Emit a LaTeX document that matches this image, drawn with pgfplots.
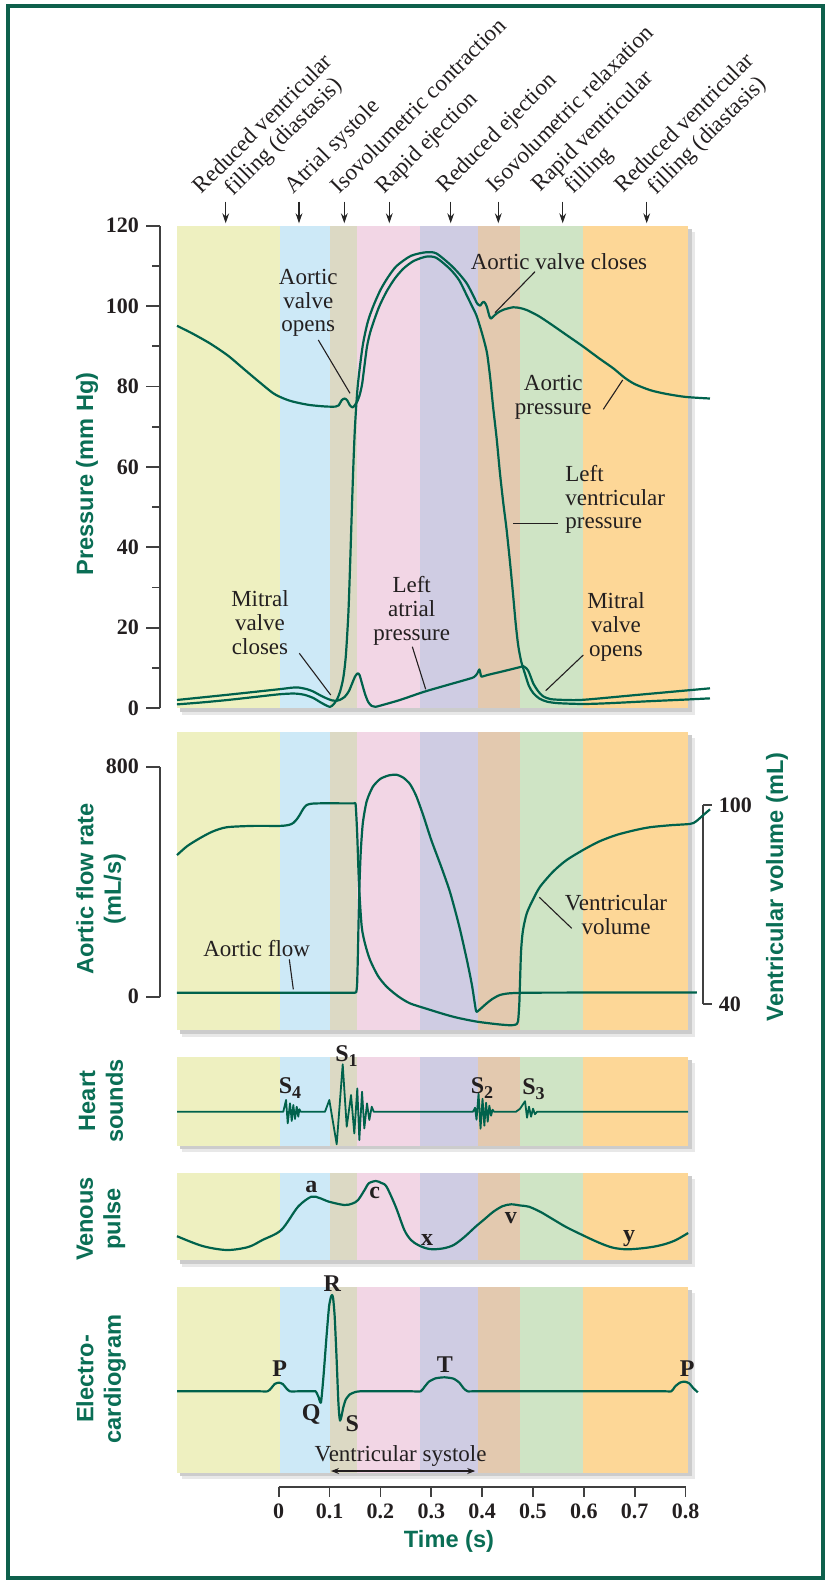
\documentclass[border=0pt]{standalone}
\usepackage{fontspec}
\setmainfont{Liberation Serif}
\setsansfont{Liberation Sans}
\usepackage{pgfplots}
\pgfplotsset{compat=1.18}
\usetikzlibrary{arrows.meta}

\definecolor{cgreen}{RGB}{0,98,76}
\definecolor{tgreen}{RGB}{10,110,85}
\definecolor{framec}{RGB}{14,96,76}
\definecolor{bY}{RGB}{238,240,192}
\definecolor{bB}{RGB}{205,233,247}
\definecolor{bT}{RGB}{220,217,196}
\definecolor{bP}{RGB}{242,214,229}
\definecolor{bL}{RGB}{207,204,227}
\definecolor{bR}{RGB}{227,201,175}
\definecolor{bG}{RGB}{207,228,197}
\definecolor{bO}{RGB}{253,215,151}
\definecolor{txt}{RGB}{35,31,32}

\newcommand{\annfont}{\fontsize{11.5}{11.9}\selectfont}
\newcommand{\tickfont}{\fontsize{11}{13}\selectfont\bfseries}
\newcommand{\titfont}{\fontsize{11.8}{13.8}\selectfont\sffamily\bfseries}
\newcommand{\lblfont}{\fontsize{12}{14}\selectfont\bfseries}
\newcommand{\sub}[1]{\raisebox{-0.4ex}{\fontsize{9}{9}\selectfont #1}}

\newcommand{\panel}[2]{%
 \fill[black!9] (182,#1+6) rectangle (694.5,#2+6.5);
 \fill[black!20] (179.5,#1+3) rectangle (691.5,#2+3.5);
 \foreach \xa/\xb/\cl in {177/280.1/bY,280.1/330.1/bB,330.1/356.9/bT,356.9/419.8/bP,419.8/477.9/bL,477.9/519.8/bR,519.8/583.2/bG,583.2/688.1/bO}{\fill[\cl] (\xa,#1) rectangle (\xb,#2);}
}

\pgfplotsset{
 trace/.style={cgreen, line width=1.1pt, line join=round, no markers},
 yaxisstyle/.style={axis x line=none, xtick=\empty, tick align=outside,
   axis line style={black!75, line width=0.9pt}, tick style={black!75, line width=0.9pt},
   yticklabel style={font=\tickfont, text=txt}},
 panelaxis/.style={scale only axis, clip=false, xmin=-0.2, xmax=0.805, width=255.57pt, hide axis},
}

\begin{document}
\begin{tikzpicture}
\useasboundingbox (0pt,0pt) rectangle (415.5pt,-792pt);
\begin{scope}[x=0.5pt,y=-0.5pt]
 \draw[framec, line width=2.25pt] (8,6) rectangle (823,1578);
 \panel{225.7}{708}
 \panel{732.3}{1030}
 \panel{1057.3}{1145.7}
 \panel{1172.7}{1260}
 \panel{1287.3}{1472.7}
\end{scope}

% ---------------- Pressure panel ----------------
\begin{axis}[scale only axis, clip=false, at={(80pt,-354pt)}, anchor=south west,
  xmin=-0.2334, xmax=0.805, width=264.06pt, ymin=0, ymax=120, height=241.15pt,
  yaxisstyle, axis y line*=left,
  ytick={0,20,40,60,80,100,120}, yticklabels={0,20,40,60,80,100,120},
  minor ytick={10,30,50,70,90,110},
  major tick length=7pt, minor tick length=4pt]
% outer curve (ventricular rise, aortic decay)
\addplot[trace, smooth, tension=0.45] coordinates {
(-0.2,0.9) (-0.15,1.4) (-0.1,2.0) (-0.05,2.7) (0.0,3.4) (0.03,3.6) (0.05,3.3) (0.068,2.5)
(0.081,1.5) (0.094,0.6) (0.101,0.3) (0.107,0.8) (0.114,2.0) (0.1205,4.0) (0.127,7.5) (0.132,13)
(0.137,23.6) (0.1405,36) (0.1435,48) (0.1467,60) (0.150,70) (0.1553,80) (0.165,90) (0.175,96)
(0.186,100) (0.20,104) (0.215,107.2) (0.232,110) (0.26,112.5) (0.29,113.4) (0.31,113.1)
(0.3375,110.3) (0.355,108) (0.37,105.6) (0.383,102.5) (0.39,100.7) (0.396,100.1) (0.4,100.8)
(0.403,101.1) (0.407,100.5) (0.41,99.5) (0.414,97.6) (0.417,96.9) (0.421,97.3) (0.43,98.3)
(0.442,99.1) (0.461,99.7) (0.475,99.5) (0.488,99) (0.51,97.6) (0.533,95.7) (0.566,92.8)
(0.599,89.9) (0.63,87) (0.658,84.5) (0.68,82.2) (0.70,80.6) (0.73,79.1) (0.76,78.2) (0.80,77.4) (0.848,77.0)};
% inner curve (aortic, then ventricular fall)
\addplot[trace, smooth, tension=0.45] coordinates {
(-0.2,95.1) (-0.17,93.2) (-0.135,90.7) (-0.1,87.7) (-0.07,84.5) (-0.04,81.3) (-0.0106,78.3)
(0.01,77.0) (0.029,76.2) (0.06,75.4) (0.094,75.0) (0.112,75.0) (0.118,75.3) (0.124,76.6)
(0.130,77.0) (0.135,76.5) (0.14,75.3) (0.1455,74.8) (0.15,75.4) (0.155,76.4) (0.159,77.8)
(0.162,79.3) (0.1645,81) (0.168,84.5) (0.1737,90) (0.18,93.5) (0.188,96.6) (0.198,100)
(0.212,103.6) (0.228,106.8) (0.245,109.3) (0.265,111.2) (0.29,112.3) (0.31,112.0) (0.337,109.2)
(0.355,106.4) (0.37,102.6) (0.38,100) (0.389,97.6) (0.398,94) (0.405,90.8) (0.41,88) (0.416,82)
(0.4215,75) (0.4286,67) (0.435,58.5) (0.4416,51) (0.448,44.5) (0.455,36) (0.461,28) (0.466,21)
(0.471,15.5) (0.477,11.5) (0.484,8.6) (0.492,5.5) (0.5006,3.7) (0.512,2.4) (0.527,1.6)
(0.55,1.2) (0.599,1.0) (0.65,1.2) (0.73,1.7) (0.80,2.1) (0.848,2.4)};
% left atrial pressure
\addplot[trace, smooth, tension=0.45] coordinates {
(-0.2,2.0) (-0.1,3.3) (0.0026,4.7) (0.025,5.05) (0.0386,5.1) (0.055,4.7) (0.068,4.1) (0.081,3.2)
(0.094,2.4) (0.105,1.9) (0.114,1.8) (0.12,2.0) (0.13,2.8) (0.138,4.2) (0.145,6.3) (0.15,7.8)
(0.155,8.6) (0.159,8.2) (0.164,6) (0.17,3.4) (0.176,1.5) (0.183,0.5) (0.19,0.3) (0.2,0.6)
(0.2385,2.0) (0.29,4.2) (0.37,7.1) (0.384,7.7) (0.3905,8.6) (0.3945,9.6) (0.397,8.4) (0.399,7.8)
(0.41,8.2) (0.44,9.1) (0.475,10.2) (0.481,10.4) (0.486,10.0) (0.491,9.2) (0.496,7.6) (0.5006,6.1)
(0.51,4.2) (0.52,2.9) (0.535,2.2) (0.565,2.0) (0.6,2.05) (0.7,3.2) (0.848,4.9)};
\end{axis}

% ---------------- Aortic flow panel ----------------
\begin{axis}[scale only axis, clip=false, at={(80pt,-498.35pt)}, anchor=south west,
  xmin=-0.2334, xmax=0.805, width=264.06pt, ymin=0, ymax=800, height=115pt,
  yaxisstyle, axis y line*=left, ytick={0,800}, yticklabels={0,800},
  major tick length=7pt]
\addplot[trace, smooth, tension=0.4] coordinates {
(-0.2,14) (0.0,14) (0.12,14) (0.14,14) (0.147,14) (0.150,14) (0.1525,16) (0.1542,45) (0.1555,130)
(0.157,260) (0.159,400) (0.1615,510) (0.1655,605) (0.173,680) (0.185,730) (0.2,758) (0.217,770)
(0.232,772) (0.245,762) (0.258,740) (0.27,700) (0.284,632) (0.30,545) (0.32,450) (0.337,363)
(0.355,245) (0.370,128) (0.38,40) (0.3875,-45) (0.39,-52) (0.395,-45) (0.409,-23) (0.42,-8)
(0.435,6) (0.455,12) (0.5,14) (0.65,14.5) (0.822,15)};
\end{axis}

% ---------------- Ventricular volume (right axis) ----------------
\begin{axis}[scale only axis, clip=false, at={(88.5pt,-502pt)}, anchor=south west,
  xmin=-0.2, xmax=0.8348, width=263.15pt, ymin=40, ymax=100, height=99.5pt,
  yaxisstyle, axis y line*=right, ytick={40,100}, yticklabels={40,100},
  major tick length=4.2pt]
\addplot[trace, smooth, tension=0.45] coordinates {
(-0.2,84.9) (-0.18,87.6) (-0.155,90) (-0.13,92) (-0.102,93.3) (-0.05,93.7) (0.0026,93.7)
(0.02,94) (0.0287,94.6) (0.036,95.8) (0.042,97.2) (0.048,98.8) (0.055,100) (0.065,100.4)
(0.081,100.5) (0.12,100.5) (0.142,100.5) (0.148,100.5) (0.151,100.4) (0.1525,97) (0.1545,90.4)
(0.158,75.4) (0.1632,63.3) (0.17,58)
(0.1795,53.3) (0.195,48.5) (0.2123,45.2) (0.235,42.3) (0.258,40.2) (0.29,38.6) (0.3237,37)
(0.35,35.9) (0.389,34.7) (0.43,33.9) (0.455,33.6) (0.466,33.8) (0.4705,34.8) (0.473,40)
(0.4745,47) (0.4765,56) (0.48,62) (0.4876,67.3) (0.5,71.5) (0.514,75.4) (0.54,80) (0.566,83.4)
(0.598,86.4) (0.63,89) (0.6646,91) (0.7,92.4) (0.73,93.3) (0.77,93.9) (0.8087,94.3) (0.82,95)
(0.835,97) (0.848,98.7)};
\end{axis}

% ---------------- Heart sounds ----------------
\begin{axis}[panelaxis, at={(88.5pt,-572.85pt)}, anchor=south west,
  ymin=-34, ymax=54.4, height=44.2pt]
\addplot[trace, line width=0.9pt, sharp plot] coordinates {
(-0.2,0) (0.009,0) (0.0144,11.7) (0.0177,-11.6) (0.0222,8.4) (0.0256,-9.3) (0.0287,6.7)
(0.032,-7.3) (0.0354,5) (0.0385,-5) (0.0405,2.5) (0.0433,0) (0.091,0) (0.0995,11.7)
(0.114,-32.6) (0.1258,47.4) (0.1337,-15) (0.1422,16.7) (0.1486,-21.7) (0.1545,23.3)
(0.1585,-28.3) (0.1638,20) (0.1683,-16.7) (0.1736,8.3) (0.1781,-8.3) (0.1829,5) (0.1868,0)
(0.382,0) (0.386,4) (0.3889,-8) (0.3929,18) (0.3968,-17) (0.4007,13) (0.4043,-14) (0.4076,9)
(0.4109,-10) (0.4141,6) (0.4174,-4) (0.4204,2) (0.4233,0) (0.4666,0) (0.4745,3) (0.4843,10.5)
(0.4882,-6) (0.4921,5) (0.4961,-5) (0.5,3) (0.5039,-2.5) (0.5079,0) (0.805,0)};
\end{axis}

% ---------------- Venous pulse ----------------
\begin{axis}[panelaxis, at={(88.5pt,-630pt)}, anchor=south west,
  ymin=0, ymax=87.3, height=43.65pt]
\addplot[trace, smooth, tension=0.5] coordinates {
(-0.2,23.8) (-0.15,14) (-0.102,10) (-0.06,13) (-0.032,20) (0.005,30) (0.038,53.3) (0.064,63.3)
(0.08,62) (0.099,58.3) (0.129,55) (0.145,56.5) (0.156,60) (0.17,71) (0.177,76.7) (0.191,79)
(0.202,77) (0.212,73.3) (0.23,53.3) (0.247,30) (0.26,20) (0.274,15) (0.29,11.7) (0.304,10.7)
(0.325,11.8) (0.344,15) (0.365,23) (0.387,33.3) (0.405,41) (0.422,48.3) (0.44,53.8) (0.457,55.7)
(0.475,54.5) (0.492,53.3) (0.515,48) (0.536,41.7) (0.565,33) (0.597,25) (0.62,19.5) (0.641,15)
(0.66,12) (0.684,10.7) (0.71,11.5) (0.737,13.3) (0.76,16) (0.781,20) (0.805,27)};
\end{axis}

% ---------------- ECG ----------------
\begin{axis}[panelaxis, at={(88.5pt,-736.35pt)}, anchor=south west,
  ymin=-81.4, ymax=104, height=92.7pt]
\addplot[trace, smooth, tension=0.35] coordinates {
(-0.2,0) (-0.1,0) (-0.04,0) (-0.022,0) (-0.015,3) (-0.008,7.3) (0,8.7) (0.008,7.3) (0.015,3)
(0.022,0) (0.04,0) (0.065,0) (0.0725,0)
(0.078,-5.3) (0.083,-11.3) (0.088,15) (0.094,55) (0.099,85) (0.103,95) (0.105,96.3) (0.107,93)
(0.110,75) (0.1136,35) (0.117,-8) (0.119,-24) (0.1206,-29.3) (0.123,-26) (0.127,-16) (0.132,-8)
(0.14,-3) (0.15,-0.8) (0.16,0) (0.2,0) (0.26,0) (0.279,0) (0.287,4.7) (0.2955,9.7) (0.3085,13)
(0.326,14) (0.3435,12.7) (0.355,8.7) (0.3636,3) (0.3715,0) (0.39,0) (0.6,0) (0.755,0) (0.772,0)
(0.779,4.7) (0.789,8.7) (0.798,9.7) (0.807,8) (0.8155,3) (0.824,-1)};
\end{axis}

% ---------------- Time axis ----------------
\begin{axis}[scale only axis, clip=false, at={(139.35pt,-743.65pt)}, anchor=south west,
  xmin=0, xmax=0.8, width=203.44pt, ymin=0, ymax=1, height=10pt,
  axis y line=none, axis x line*=bottom, ytick=\empty, tick align=outside,
  axis line style={black!75, line width=0.9pt}, tick style={black!75, line width=0.9pt},
  major tick length=4.7pt,
  xtick={0,0.1,0.2,0.3,0.4,0.5,0.6,0.7,0.8},
  xticklabels={0,0.1,0.2,0.3,0.4,0.5,0.6,0.7,0.8},
  xticklabel style={font=\tickfont, text=txt}]
\addplot[draw=none] coordinates {(0,0) (0.8,0)};
\end{axis}

% ---------------- Annotations ----------------
\begin{scope}[x=0.5pt,y=-0.5pt]
 \tikzset{ph/.style={rotate=45, anchor=base west, inner sep=0pt, font=\annfont, text=txt},
          ann/.style={font=\annfont, text=txt, align=center, inner sep=0pt},
          ptr/.style={txt, line width=0.55pt},
          arr/.style={-{Stealth[length=5pt,width=3.4pt]}, line width=0.55pt, black!85},
          tit/.style={font=\titfont, text=tgreen, align=center, inner sep=0pt},
          lbl/.style={font=\lblfont, text=txt, inner sep=0pt}}
 % phase labels
 \node[ph] at (201.7,195) {Reduced ventricular};
 \node[ph] at (233.3,196.5) {filling (diastasis)};
 \node[ph] at (293.3,195) {Atrial systole};
 \node[ph] at (339.3,195) {Isovolumetric contraction};
 \node[ph] at (384,195) {Rapid ejection};
 \node[ph] at (445,194) {Reduced ejection};
 \node[ph] at (495,194) {Isovolumetric relaxation};
 \node[ph] at (540,193) {Rapid ventricular};
 \node[ph] at (573.3,195) {filling};
 \node[ph] at (623.3,194) {Reduced ventricular};
 \node[ph] at (656.7,195.5) {filling (diastasis)};
 \foreach \ax in {225.7,299,344.3,389.3,450.7,498.3,562.7,646.7}{\draw[arr] (\ax,201.7) -- (\ax,223.3);}
 % pressure annotations
 \node[ann] at (308.3,303) {Aortic\\valve\\opens};
 \draw[ptr] (318.3,340) -- (350,393.3);
 \node[ann] at (559,261.7) {Aortic valve closes};
 \draw[ptr] (535,271.7) -- (495,312.7);
 \node[ann] at (553.3,397.5) {Aortic\\pressure};
 \draw[ptr] (603.3,409.3) -- (622.7,380);
 \node[ann, align=left, anchor=west] at (565,499.5) {Left\\ventricular\\pressure};
 \draw[ptr] (513.3,523.3) -- (558.3,523.3);
 \node[ann] at (260,622.7) {Mitral\\valve\\closes};
 \draw[ptr] (299.3,653.3) -- (330.7,695);
 \node[ann] at (411.7,610.7) {Left\\atrial\\pressure};
 \draw[ptr] (412.3,646.7) -- (425.7,689.3);
 \node[ann] at (616,627) {Mitral\\valve\\opens};
 \draw[ptr] (583.3,655) -- (545.7,690.7);
 % flow annotations
 \node[ann] at (256.7,948.3) {Aortic flow};
 \draw[ptr] (289.3,959.3) -- (293.3,989.3);
 \node[ann] at (616,914.5) {Ventricular\\volume};
 \draw[ptr] (539.3,897.3) -- (571.7,928.3);
 % axis titles
 \node[tit, rotate=90] at (87,474) {Pressure (mm Hg)};
 \node[tit, rotate=90] at (101,889) {Aortic flow rate\\(mL/s)};
 \node[tit, rotate=90] at (777,887) {Ventricular volume (mL)};
 \node[tit, rotate=90] at (101,1101) {Heart\\sounds};
 \node[tit, rotate=90] at (101,1219) {Venous\\pulse};
 \node[tit, rotate=90] at (101,1379) {Electro-\\cardiogram};
 \node[tit] at (449,1541.7) {Time (s)};
 % heart sound labels
 \node[lbl] at (346.5,1056) {S\sub{1}};
 \node[lbl] at (290,1088) {S\sub{4}};
 \node[lbl] at (482,1088) {S\sub{2}};
 \node[lbl] at (533.5,1089) {S\sub{3}};
 % venous labels
 \node[lbl] at (311.3,1186.7) {a};
 \node[lbl] at (374.7,1193.3) {c};
 \node[lbl] at (427,1240) {x};
 \node[lbl] at (510.9,1217.7) {v};
 \node[lbl] at (629.2,1238.3) {y};
 % ECG labels
 \node[lbl] at (332.3,1283.3) {R};
 \node[lbl] at (279.6,1368.3) {P};
 \node[lbl] at (311.3,1414) {Q};
 \node[lbl] at (352.4,1424) {S};
 \node[lbl] at (444.8,1365) {T};
 \node[lbl] at (687.2,1368.3) {P};
 \node[ann] at (400.6,1455.7) {Ventricular systole};
 \draw[{Stealth[length=4pt,width=3pt]}-{Stealth[length=4pt,width=3pt]}, line width=0.55pt, txt] (331,1471) -- (475.2,1471);
\end{scope}
\end{tikzpicture}
\end{document}
